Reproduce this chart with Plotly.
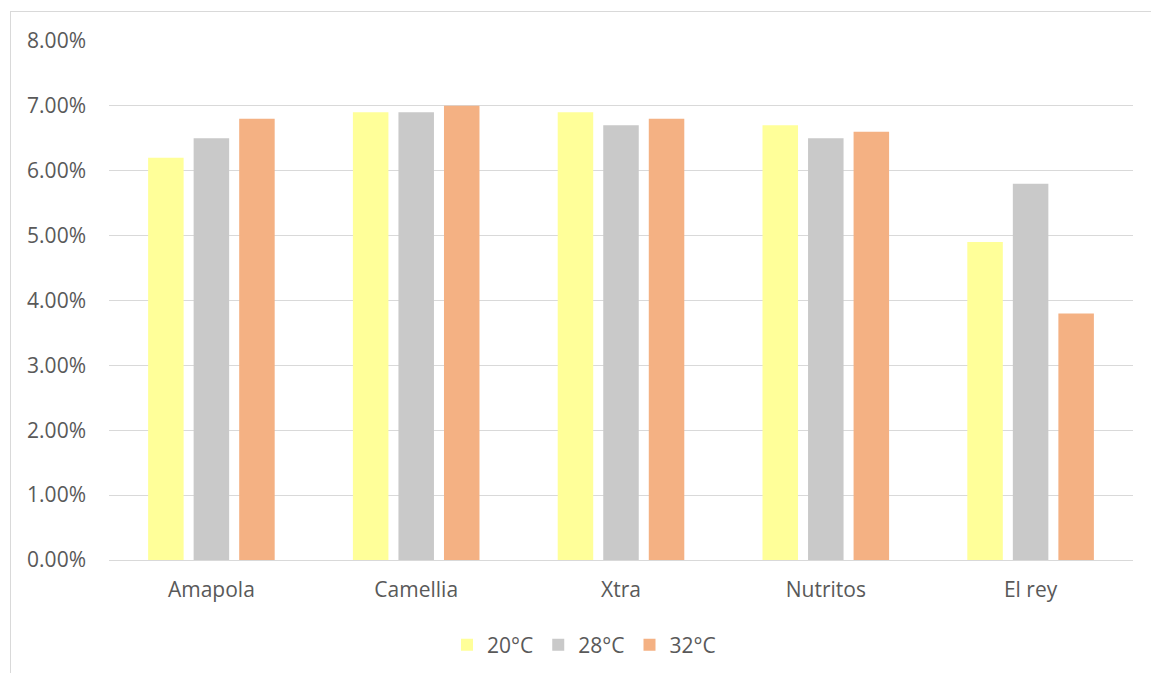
import plotly.graph_objects as go

categories = ["Amapola", "Camellia", "Xtra", "Nutritos", "El rey"]
series_names = ["20°C", "28°C", "32°C"]
v20 = [0.062, 0.069, 0.069, 0.067, 0.049]
v28 = [0.065, 0.069, 0.067, 0.065, 0.058]
v32 = [0.068, 0.070, 0.068, 0.066, 0.038]
colors = ["#FFFF99", "#C9C9C9", "#F4B183"]
y_ticks = [0, 0.01, 0.02, 0.03, 0.04, 0.05, 0.06, 0.07, 0.08]

W, H = 1151, 673
L, R, T, B = 109, 18, 41, 113
pw, ph = W - L - R, H - T - B

fig = go.Figure()
for name, vals, c in zip(series_names, [v20, v28, v32], colors):
    fig.add_trace(go.Bar(x=categories, y=vals, name=name, marker=dict(color=c, line=dict(width=0))))

font = dict(family="'Open Sans', Lato, sans-serif", size=21, color="#595959")

def px_x(p):
    return (p - L) / pw

def px_y(p):
    return (H - B - p) / ph

fig.update_layout(
    width=W, height=H,
    margin=dict(l=L, r=R, t=T, b=B, autoexpand=False),
    paper_bgcolor="white", plot_bgcolor="white",
    barmode="group", bargap=0.333, bargroupgap=0.22,
    font=font,
    showlegend=True,
    legend=dict(orientation="h", x=px_x(584), xanchor="center", y=px_y(645), yanchor="middle",
                font=font, itemwidth=30, traceorder="normal"),
    xaxis=dict(showgrid=False, showline=False, zeroline=False, ticks="", ticklabelstandoff=15,
               tickfont=font, automargin=False),
    yaxis=dict(range=[0, 0.08], tickvals=y_ticks, tickformat=".2%", showgrid=True,
               gridcolor="#D9D9D9", gridwidth=1, zeroline=True, zerolinecolor="#D9D9D9",
               zerolinewidth=1, showline=False, ticks="", ticklabelstandoff=22, tickfont=font,
               automargin=False),
    shapes=[
        dict(type="line", xref="paper", yref="paper", x0=px_x(10), x1=px_x(1160), y0=px_y(11.5), y1=px_y(11.5),
             line=dict(color="#D9D9D9", width=1)),
        dict(type="line", xref="paper", yref="paper", x0=px_x(10.5), x1=px_x(10.5), y0=px_y(11), y1=px_y(700),
             line=dict(color="#D9D9D9", width=1)),
    ],
)

fig.write_html("out.html")
